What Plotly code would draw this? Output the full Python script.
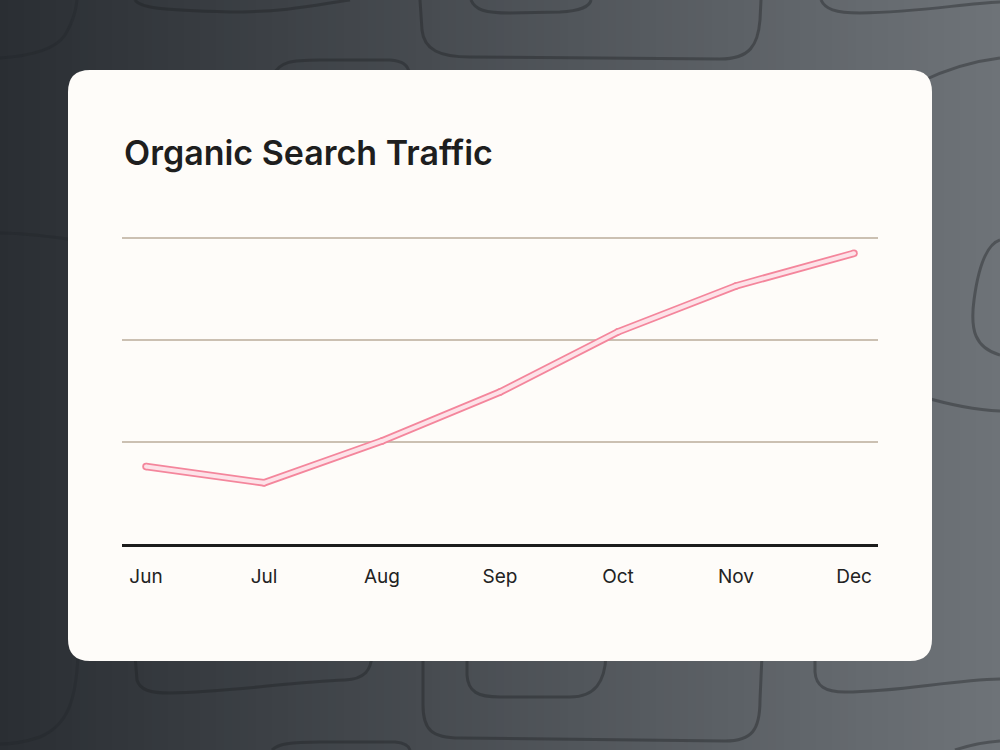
import plotly.graph_objects as go

# ---- data ----
months = ["Jun", "Jul", "Aug", "Sep", "Oct", "Nov", "Dec"]
traffic = [7.6, 6.0, 10.1, 14.9, 20.8, 25.3, 28.5]
grid_vals = [10, 20, 30]
title_text = "Organic Search Traffic"

W, H = 1000, 750


def P(x, y):
    return f"{x / W:.5f},{1 - y / H:.5f}"


def path(cmds):
    out = []
    for c in cmds:
        op, pts = c[0], c[1:]
        out.append(op + " ".join(P(*p) for p in pts))
    return " ".join(out)


shapes = []

# background horizontal gradient (stripes)
c0 = (0x2a, 0x2e, 0x33)
c1 = (0x6e, 0x73, 0x78)
n = 125
for i in range(n):
    t = i / (n - 1)
    col = tuple(round(c0[k] + (c1[k] - c0[k]) * t) for k in range(3))
    shapes.append(dict(type="rect", xref="paper", yref="paper",
                       x0=i / n, x1=(i + 1) / n + 0.002, y0=0, y1=1,
                       fillcolor=f"rgb{col}", line=dict(width=0), layer="below"))

# decorative wavy outlines
deco = [
    [("M", (0, 58)), ("C", (30, 56), (55, 50), (65, 35)), ("C", (73, 22), (76, 10), (77, 0))],
    [("M", (135, 0)), ("C", (140, 8), (160, 10), (230, 12)), ("C", (290, 12), (320, 4), (350, 0))],
    [("M", (420, 0)), ("L", (422, 30)), ("C", (424, 50), (440, 57), (470, 57)), ("L", (720, 59)),
     ("C", (750, 59), (758, 45), (760, 20)), ("L", (761, 0))],
    [("M", (471, 0)), ("C", (475, 10), (485, 13), (510, 13)), ("L", (560, 12)),
     ("C", (580, 11), (590, 6), (591, 0))],
    [("M", (821, 0)), ("C", (825, 9), (835, 13), (860, 13)), ("C", (920, 12), (960, 4), (1000, 2))],
    [("M", (920, 82)), ("C", (945, 70), (975, 61), (1000, 58))],
    [("M", (273, 75)), ("C", (280, 62), (290, 60), (320, 60)), ("L", (390, 60)),
     ("C", (402, 61), (408, 64), (410, 75))],
    [("M", (1000, 240)), ("C", (985, 245), (978, 270), (974, 300)), ("C", (970, 330), (975, 348), (1000, 355))],
    [("M", (920, 396)), ("C", (950, 405), (975, 410), (1000, 411))],
    [("M", (0, 233)), ("C", (25, 233), (45, 236), (75, 240))],
    [("M", (135, 655)), ("L", (137, 680)), ("C", (140, 690), (150, 693), (170, 693)),
     ("C", (230, 692), (290, 682), (345, 680)), ("C", (365, 679), (371, 670), (372, 655))],
    [("M", (78, 655)), ("C", (76, 700), (68, 725), (40, 737)), ("C", (25, 742), (10, 744), (0, 744))],
    [("M", (423, 655)), ("L", (423, 705)), ("C", (423, 730), (432, 738), (460, 738)), ("L", (725, 741)),
     ("C", (752, 741), (760, 730), (760, 700)), ("L", (762, 655))],
    [("M", (467, 655)), ("L", (467, 675)), ("C", (468, 692), (478, 697), (500, 697)), ("L", (570, 697)),
     ("C", (595, 697), (605, 682), (606, 655))],
    [("M", (815, 655)), ("L", (815, 672)), ("C", (816, 686), (825, 692), (845, 692)),
     ("C", (900, 692), (950, 680), (1000, 679))],
    [("M", (272, 750)), ("C", (278, 744), (290, 742), (320, 742)), ("L", (395, 742)),
     ("C", (405, 743), (409, 746), (410, 750))],
    [("M", (955, 750)), ("C", (970, 745), (985, 742), (1000, 741))],
]
for i, d in enumerate(deco):
    faint = i in (0, 9, 11)
    shapes.append(dict(type="path", xref="paper", yref="paper", path=path(d),
                       line=dict(color="rgba(28,31,35,%s)" % ("0.25" if faint else "0.38"), width=3),
                       layer="below"))

# card
x0, x1, y0, y1, r = 68, 932, 70, 661, 22
card = [("M", (x0 + r, y0)), ("L", (x1 - r, y0)), ("Q", (x1, y0), (x1, y0 + r)),
        ("L", (x1, y1 - r)), ("Q", (x1, y1), (x1 - r, y1)), ("L", (x0 + r, y1)),
        ("Q", (x0, y1), (x0, y1 - r)), ("L", (x0, y0 + r)), ("Q", (x0, y0), (x0 + r, y0))]
shapes.append(dict(type="path", xref="paper", yref="paper", path=path(card) + " Z",
                   fillcolor="#fefcf9", line=dict(width=0), layer="below"))

fig = go.Figure()
fig.add_trace(go.Scatter(x=months, y=traffic, mode="lines+markers",
                         line=dict(color="#f4869c", width=7.5),
                         marker=dict(size=7.5, color="#f4869c", line=dict(width=0)),
                         hoverinfo="skip", showlegend=False))
fig.add_trace(go.Scatter(x=months, y=traffic, mode="lines+markers",
                         line=dict(color="#fde2e8", width=4),
                         marker=dict(size=4, color="#fde2e8", line=dict(width=0)),
                         hoverinfo="skip", showlegend=False))

# y scale: baseline at 544 px, 10.2 px per unit; extend range a bit above 30
y_top = 31
px_per_unit = 10.2
fig.update_layout(
    width=W, height=H,
    margin=dict(l=0, r=0, t=0, b=0),
    paper_bgcolor="#2a2e33",
    plot_bgcolor="rgba(0,0,0,0)",
    shapes=shapes,
    showlegend=False,
    xaxis=dict(type="category", range=[-0.2034, 6.2034], domain=[0.122, 0.878],
               showgrid=False, showline=True, linecolor="#1c1c1c", linewidth=2.5,
               ticks="outside", ticklen=13, tickcolor="rgba(0,0,0,0)",
               tickfont=dict(family="Inter", size=19, color="#222222"),
               fixedrange=True, zeroline=False),
    yaxis=dict(range=[0, y_top], domain=[1 - 544 / H, 1 - (544 - y_top * px_per_unit) / H],
               tickvals=grid_vals, showticklabels=False, ticks="",
               gridcolor="#cbc0b2", gridwidth=2, zeroline=False, showline=False,
               fixedrange=True),
    annotations=[dict(text=title_text, xref="paper", yref="paper",
                      x=122 / W, y=1 - 153 / H, xanchor="left", yanchor="middle",
                      showarrow=False,
                      font=dict(family="Inter", size=34, color="#1e1e1e", weight=600))],
)

fig.write_html("out.html")
